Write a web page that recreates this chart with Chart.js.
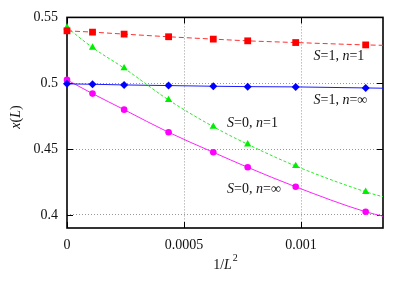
<!DOCTYPE html>
<html>
<head>
<meta charset="utf-8">
<script src="https://cdn.jsdelivr.net/npm/chart.js@4.4.1/dist/chart.umd.min.js"></script>
<style>
  html, body { margin: 0; padding: 0; background: #fff; }
  #wrap { width: 409px; height: 286px; }
</style>
</head>
<body>
<div id="wrap"><canvas id="chart" width="409" height="286"></canvas></div>
<script>
// 1/L^2 for L = inf, 96, 64, 48, 40, 36, 32, 28, then the curve end at the right frame
const invL2 = [0, 0.000109, 0.000244, 0.000434, 0.000625, 0.000772, 0.000977, 0.001276, 0.00135];
const s1n1 = [0.5398, 0.5388, 0.5373, 0.5353, 0.5335, 0.5322, 0.5309, 0.5291, 0.5288];
const s0n1 = [0.5423, 0.5271, 0.5114, 0.4873, 0.4670, 0.4536, 0.4371, 0.4175, 0.4137];
const s1nInf = [0.4995, 0.4992, 0.4987, 0.4982, 0.4977, 0.4974, 0.4972, 0.4964, 0.4962];
const s0nInf = [0.5025, 0.4921, 0.4799, 0.4627, 0.4475, 0.4361, 0.4213, 0.4023, 0.3990];
const xTicks = [0, 0.0005, 0.001];
const yTicks = [0.4, 0.45, 0.5, 0.55];

const serif = '"Liberation Serif", "DejaVu Serif", serif';

// labels: [x, y, parts]; parts alternate italic / upright
const labels = [
  [0.001053, 0.5202, [["S", true], ["=1, ", false], ["n", true], ["=1", false]]],
  [0.001053, 0.4873, [["S", true], ["=1, ", false], ["n", true], ["=\u221e", false]]],
  [0.000684, 0.4696, [["S", true], ["=0, ", false], ["n", true], ["=1", false]]],
  [0.000684, 0.4196, [["S", true], ["=0, ", false], ["n", true], ["=\u221e", false]]],
];

function pts(ys) {
  return ys.map((y, i) => ({ x: invL2[i], y: y }));
}

// hide the marker on the curve end point
function markerRadius(r) {
  return (ctx) => (ctx.dataIndex === invL2.length - 1 ? 0 : r);
}

function drawParts(ctx, x, y, parts, size) {
  let cx = x;
  for (const [txt, it] of parts) {
    ctx.font = (it ? "italic " : "") + size + "px " + serif;
    ctx.fillText(txt, cx, y);
    cx += ctx.measureText(txt).width;
  }
  return cx;
}

const gnuplotFrame = {
  id: "gnuplotFrame",
  beforeDatasetsDraw(chart) {
    const { ctx, chartArea: a, scales } = chart;
    ctx.save();
    ctx.strokeStyle = "#000";
    ctx.lineWidth = 1;
    // inward ticks
    ctx.beginPath();
    for (const v of yTicks) {
      const py = Math.round(scales.y.getPixelForValue(v)) + 0.5;
      ctx.moveTo(a.left, py); ctx.lineTo(a.left + 6, py);
      ctx.moveTo(a.right, py); ctx.lineTo(a.right - 6, py);
    }
    for (const v of xTicks) {
      const px = Math.round(scales.x.getPixelForValue(v)) + 0.5;
      ctx.moveTo(px, a.bottom); ctx.lineTo(px, a.bottom - 6);
      ctx.moveTo(px, a.top); ctx.lineTo(px, a.top + 6);
    }
    ctx.stroke();
    ctx.lineWidth = 1.6;
    ctx.strokeRect(a.left, a.top, a.right - a.left, a.bottom - a.top);
    ctx.restore();
  },
  afterDraw(chart) {
    const { ctx, chartArea: a, scales } = chart;
    ctx.save();
    ctx.fillStyle = "#111";
    ctx.textBaseline = "middle";
    for (const [x, y, parts] of labels) {
      drawParts(ctx, scales.x.getPixelForValue(x), scales.y.getPixelForValue(y), parts, 14);
    }
    // x axis title 1/L^2
    ctx.font = "14px " + serif;
    const w1 = ctx.measureText("1/").width;
    ctx.font = "italic 14px " + serif;
    const w2 = ctx.measureText("L").width;
    ctx.font = "10px " + serif;
    const w3 = ctx.measureText("2").width;
    let x0 = (a.left + a.right) / 2 - (w1 + w2 + w3) / 2;
    const ty = 265;
    ctx.font = "14px " + serif;
    ctx.fillText("1/", x0, ty);
    ctx.font = "italic 14px " + serif;
    ctx.fillText("L", x0 + w1, ty);
    ctx.font = "10px " + serif;
    ctx.fillText("2", x0 + w1 + w2 + 1, ty - 7);
    // y axis title x(L)
    ctx.translate(16, 117);
    ctx.rotate(-Math.PI / 2);
    const parts = [["x", true], ["(", false], ["L", true], [")", false]];
    let tw = 0;
    for (const [t, it] of parts) {
      ctx.font = (it ? "italic " : "") + "14px " + serif;
      tw += ctx.measureText(t).width;
    }
    drawParts(ctx, -tw / 2, 0, parts, 14);
    ctx.restore();
  },
};

const common = {
  showLine: true,
  borderWidth: 1,
  cubicInterpolationMode: "monotone",
  clip: false,
};

new Chart(document.getElementById("chart").getContext("2d"), {
  type: "scatter",
  data: {
    datasets: [
      {
        ...common,
        label: "S=1, n=1",
        data: pts(s1n1),
        borderColor: "#ff3030",
        backgroundColor: "#ff0000",
        pointStyle: "rect",
        pointRadius: markerRadius(4.8),
        pointBorderWidth: 0,
        borderDash: [5, 3],
      },
      {
        ...common,
        label: "S=0, n=1",
        data: pts(s0n1),
        borderColor: "#22ee22",
        backgroundColor: "#00ee00",
        pointStyle: "triangle",
        pointRadius: markerRadius(4.2),
        pointBorderWidth: 0,
        borderDash: [3, 2],
      },
      {
        ...common,
        label: "S=1, n=inf",
        data: pts(s1nInf),
        borderColor: "#1a1aff",
        backgroundColor: "#0000ff",
        pointStyle: "rectRot",
        pointRadius: markerRadius(4),
        pointBorderWidth: 0,
      },
      {
        ...common,
        label: "S=0, n=inf",
        data: pts(s0nInf),
        borderColor: "#ff20ff",
        backgroundColor: "#ff00ff",
        pointStyle: "circle",
        pointRadius: markerRadius(3.3),
        pointBorderWidth: 0,
      },
    ],
  },
  options: {
    responsive: false,
    animation: false,
    layout: { padding: { top: 17, right: 26, left: 0, bottom: 0 } },
    plugins: { legend: { display: false }, tooltip: { enabled: false } },
    scales: {
      x: {
        type: "linear",
        min: 0,
        max: 0.00135,
        afterFit: (s) => { s.height = 58; },
        afterBuildTicks: (s) => { s.ticks = xTicks.map((v) => ({ value: v })); },
        grid: {
          color: (c) => (c.tick && c.tick.value === 0 ? "rgba(0,0,0,0)" : "#999"),
          lineWidth: 1,
          drawTicks: false,
        },
        border: { display: false, dash: [1, 2] },
        ticks: {
          padding: 9,
          color: "#111",
          font: { family: serif, size: 14 },
          callback: (v) => String(v),
          maxRotation: 0,
        },
      },
      y: {
        min: 0.39,
        max: 0.55,
        afterFit: (s) => { s.width = 67; },
        afterBuildTicks: (s) => { s.ticks = yTicks.map((v) => ({ value: v })); },
        grid: {
          color: (c) => (c.tick && c.tick.value === 0.55 ? "rgba(0,0,0,0)" : "#999"),
          lineWidth: 1,
          drawTicks: false,
        },
        border: { display: false, dash: [1, 2] },
        ticks: {
          padding: 9,
          color: "#111",
          font: { family: serif, size: 14 },
          callback: (v) => String(v),
        },
      },
    },
  },
  plugins: [gnuplotFrame],
});
</script>
</body>
</html>
